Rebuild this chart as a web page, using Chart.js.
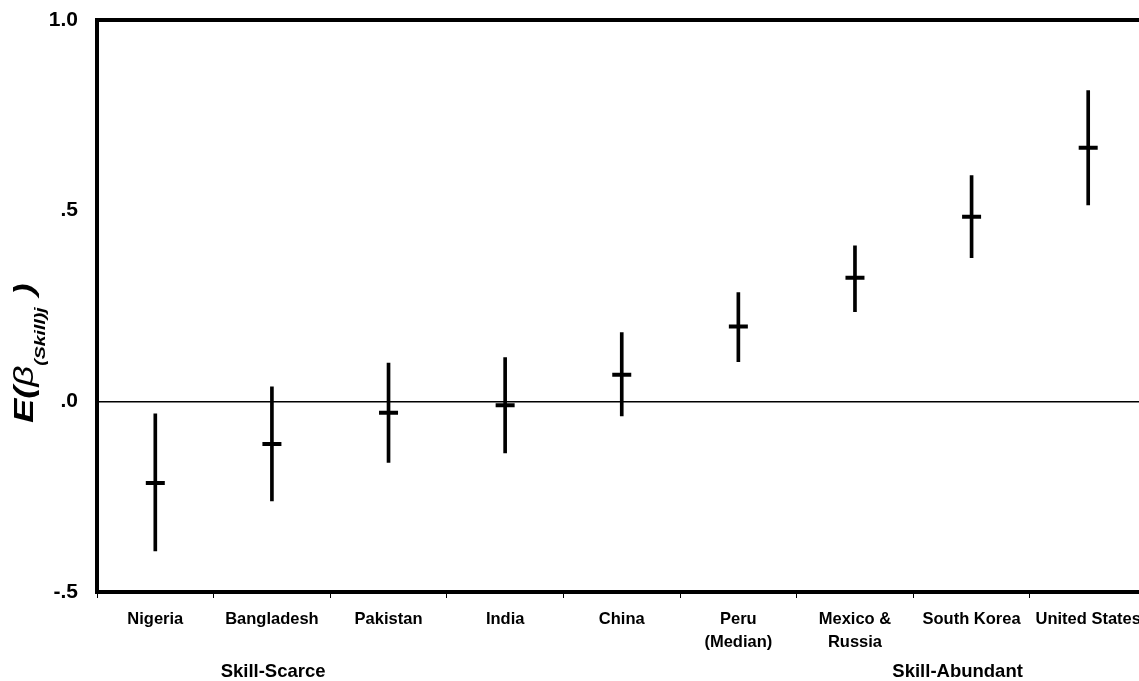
<!DOCTYPE html>
<html>
<head>
<meta charset="utf-8">
<script src="https://cdn.jsdelivr.net/npm/chart.js@4.4.1/dist/chart.umd.min.js"></script>
<style>
html,body{margin:0;padding:0;background:#fff;overflow:hidden;}
#wrap{width:1160px;height:681px;}
canvas{display:block;}
</style>
</head>
<body>
<div id="wrap"><canvas id="c" width="1160" height="681"></canvas></div>
<script>
// ---- data ----
const categories = ['Nigeria', 'Bangladesh', 'Pakistan', 'India', 'China', ['Peru', '(Median)'], ['Mexico &', 'Russia'], 'South Korea', 'United States'];
const groupLabels = ['Skill-Scarce', 'Skill-Abundant'];
const groupPositions = [1.51, 7.38]; // in category units from the left edge of the axis
const meanValues = [-0.214, -0.112, -0.030, -0.010, 0.070, 0.196, 0.324, 0.484, 0.665];
const lowerValues = [-0.392, -0.261, -0.160, -0.135, -0.038, 0.104, 0.235, 0.377, 0.515];
const upperValues = [-0.033, 0.038, 0.100, 0.115, 0.180, 0.285, 0.408, 0.592, 0.815];
const yTickLabels = {'-0.5': '-.5', '0': '.0', '0.5': '.5', '1': '1.0'};

const ranges = lowerValues.map((lo, i) => [lo, upperValues[i]]);

const FONT = "'Liberation Sans', Arial, Helvetica, sans-serif";

const yTitlePlugin = {
  id: 'yTitle',
  afterDraw(chart) {
    const ctx = chart.ctx;
    ctx.save();
    ctx.translate(33, 423);
    ctx.rotate(-Math.PI / 2);
    ctx.scale(1.3, 1);
    ctx.fillStyle = '#000';
    ctx.textBaseline = 'alphabetic';
    ctx.textAlign = 'left';
    let x = 0;
    const parts = [
      {t: 'E(', f: 'italic bold 28px ' + FONT, dy: 0, gap: 0},
      {t: '\u03B2', f: 'italic 28px ' + FONT, dy: 0, gap: 0},
      {t: '(Skill)j', f: 'italic bold 15px ' + FONT, dy: 12, gap: 0},
      {t: ')', f: 'italic bold 28px ' + FONT, dy: 0, gap: 9}
    ];
    for (const p of parts) {
      x += p.gap;
      ctx.font = p.f;
      ctx.fillText(p.t, x, p.dy);
      x += ctx.measureText(p.t).width;
    }
    ctx.restore();
  }
};

new Chart(document.getElementById('c'), {
  type: 'bar',
  data: {
    labels: categories,
    datasets: [
      {
        type: 'bar',
        data: ranges,
        backgroundColor: '#000',
        borderWidth: 0,
        barThickness: 3,
        order: 2
      },
      {
        type: 'line',
        data: meanValues,
        showLine: false,
        pointStyle: 'line',
        pointRadius: 9.5,
        pointHoverRadius: 9.5,
        pointBorderWidth: 4,
        pointHoverBorderWidth: 4,
        pointBorderColor: '#000',
        borderColor: '#000',
        order: 1
      }
    ]
  },
  options: {
    responsive: false,
    animation: false,
    events: [],
    layout: {padding: {left: 0, right: 13, top: 20, bottom: 0}},
    plugins: {legend: {display: false}, tooltip: {enabled: false}, title: {display: false}},
    scales: {
      x: {
        type: 'category',
        position: 'bottom',
        offset: true,
        grid: {
          offset: true,
          drawOnChartArea: false,
          drawTicks: true,
          tickLength: 6,
          color: '#000',
          lineWidth: 1
        },
        border: {display: true, color: '#000', width: 4},
        ticks: {
          color: '#000',
          font: {family: FONT, size: 16.5, weight: 'bold', lineHeight: 1.4},
          padding: 9.5,
          maxRotation: 0,
          autoSkip: false
        },
        afterFit(s) { s.height = 62; }
      },
      x2: {
        type: 'linear',
        position: 'bottom',
        offset: false,
        min: 0,
        max: categories.length,
        grid: {display: false, drawTicks: false, offset: false},
        border: {display: false},
        afterBuildTicks(s) { s.ticks = groupPositions.map(v => ({value: v})); },
        ticks: {
          color: '#000',
          font: {family: FONT, size: 18.5, weight: 'bold', lineHeight: 1.2},
          padding: 7,
          maxRotation: 0,
          autoSkip: false,
          callback: (v, i) => groupLabels[i]
        },
        afterFit(s) { s.height = 27; }
      },
      y: {
        min: -0.5,
        max: 1.0,
        ticks: {
          stepSize: 0.5,
          color: '#000',
          font: {family: FONT, size: 21, weight: 'bold', lineHeight: 1.0},
          padding: 0,
          callback: (v) => yTickLabels[String(Math.round(v * 10) / 10)] ?? ''
        },
        grid: {
          drawTicks: true,
          tickLength: 19,
          tickColor: 'rgba(0,0,0,0)',
          color: (c) => (c.tick && (c.tick.value === 1 || c.tick.value === 0)) ? '#000' : 'rgba(0,0,0,0)',
          lineWidth: (c) => (c.tick && c.tick.value === 1) ? 4 : 1.5
        },
        border: {display: true, color: '#000', width: 4},
        afterFit(s) { s.width = 97; }
      }
    }
  },
  plugins: [yTitlePlugin]
});
</script>
</body>
</html>
